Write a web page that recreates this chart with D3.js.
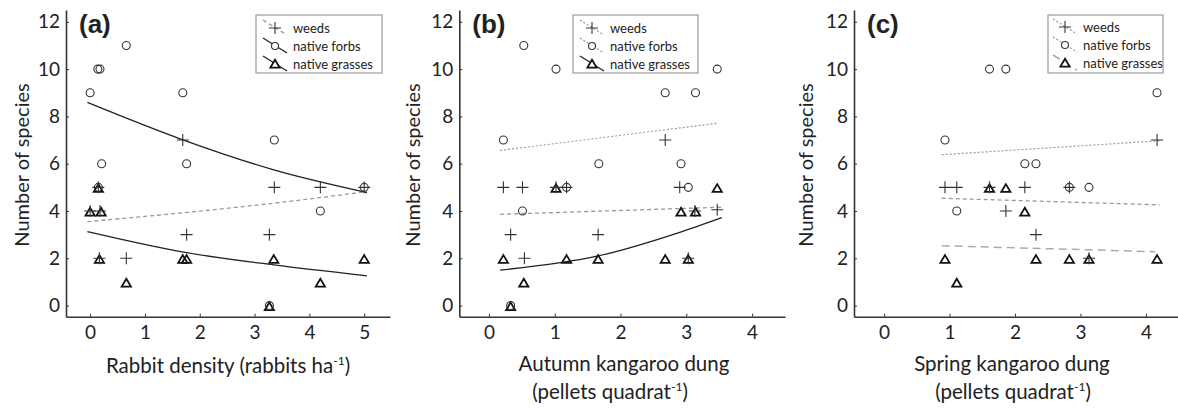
<!DOCTYPE html>
<html lang="en">
<head>
  <meta charset="UTF-8">
  <script src="https://cdn.jsdelivr.net/npm/d3@7"></script>
  <title>Number of species</title>
  <style>
    body { margin: 0; background: #fff; }
    text { font-family: Lato, "Open Sans", sans-serif; fill: #222; }
  </style>
</head>
<body>
  <svg></svg>
</body>
<script>
const width = 1178;
const height = 410;

// ---- data: [x, number of species] ----
const rabbitWeeds = [[0, 4], [0.18, 4], [0.15, 5], [0.17, 2], [0.66, 2], [1.69, 7], [1.76, 3], [3.27, 3], [3.36, 5], [4.2, 5], [5.0, 5]];
const rabbitForbs = [[0, 9], [0.14, 10], [0.18, 10], [0.66, 11], [0.21, 6], [0.15, 5], [1.69, 9], [1.76, 6], [3.36, 7], [3.27, 0], [4.2, 4], [5.0, 5]];
const rabbitGrasses = [[0, 4], [0.2, 4], [0.15, 5], [0.17, 2], [0.66, 1], [1.69, 2], [1.76, 2], [3.35, 2], [3.27, 0], [4.2, 1], [5.0, 2]];

const autumnWeeds = [[0.22, 5], [0.51, 5], [1.02, 5], [1.18, 5], [2.9, 5], [0.33, 3], [0.54, 2], [1.66, 3], [2.68, 7], [3.13, 4], [3.47, 4.05], [3.03, 2]];
const autumnForbs = [[0.22, 7], [0.53, 11], [1.02, 10], [1.67, 6], [2.68, 9], [3.14, 9], [3.47, 10], [2.92, 6], [1.18, 5], [3.03, 5], [0.51, 4], [0.33, 0]];
const autumnGrasses = [[1.02, 5], [3.47, 5], [2.92, 4], [3.14, 4], [0.22, 2], [1.18, 2], [1.66, 2], [2.68, 2], [3.03, 2], [0.53, 1], [0.33, 0]];

const springWeeds = [[0.93, 5], [1.11, 5], [1.61, 5], [2.15, 5], [2.83, 5], [4.17, 7], [1.86, 4], [2.32, 3], [3.13, 2]];
const springForbs = [[0.93, 7], [1.61, 10], [1.86, 10], [2.15, 6], [2.32, 6], [2.83, 5], [3.13, 5], [4.17, 9], [1.11, 4]];
const springGrasses = [[1.61, 5], [1.86, 5], [2.15, 4], [0.93, 2], [2.32, 2], [2.83, 2], [3.13, 2], [4.17, 2], [1.11, 1]];

// fitted lines, points
const rabbitFitWeeds = [[-0.05, 3.55], [3.35, 4.33], [5.05, 4.82]];
const rabbitFitForbs = [[-0.05, 8.59], [1.69, 7.01], [3.35, 5.74], [5.05, 4.78]];
const rabbitFitGrasses = [[-0.05, 3.13], [1.76, 2.24], [3.35, 1.72], [5.05, 1.26]];
const autumnFitWeeds = [[0.17, 3.86], [3.54, 4.16]];
const autumnFitForbs = [[0.17, 6.56], [3.49, 7.72]];
const autumnFitGrasses = [[0.17, 1.5], [1.66, 2.1], [2.9, 3.1], [3.54, 3.72]];
const springFitWeeds = [[0.88, 4.54], [4.21, 4.26]];
const springFitForbs = [[0.88, 6.38], [4.21, 6.97]];
const springFitGrasses = [[0.88, 2.53], [4.14, 2.28]];

const yTicks = [0, 2, 4, 6, 8, 10, 12];
const rabbitTicks = [0, 1, 2, 3, 4, 5];
const dungTicks = [0, 1, 2, 3, 4];
const legendLabels = ['weeds', 'native forbs', 'native grasses'];

// line styles
const styles = {
  solid: { stroke: '#222', dash: null, width: 1.3 },
  dotted: { stroke: '#999', dash: '2,2', width: 1.2 },
  dashed: { stroke: '#999', dash: '4,3', width: 1.3 },
  longdash: { stroke: '#aaa', dash: '8,5', width: 1.5 }
};

const panels = [
  {
    tag: '(a)', x0: 66, x1: 390, domain: [-0.44, 5.47], ticks: rabbitTicks,
    weeds: rabbitWeeds, forbs: rabbitForbs, grasses: rabbitGrasses,
    fits: [[rabbitFitWeeds, 'dashed'], [rabbitFitForbs, 'solid'], [rabbitFitGrasses, 'solid']],
    legend: { x: 256, w: 126, sym: 275, text: 293, rows: [28, 46, 64], styles: ['dashed', 'solid', 'solid'] },
    titleX: 29, titleLines: [{ t: 'Rabbit density (rabbits ha', sup: '-1', tail: ')', cx: 228, y: 373 }]
  },
  {
    tag: '(b)', x0: 459.3, x1: 785, domain: [-0.45, 4.5], ticks: dungTicks,
    weeds: autumnWeeds, forbs: autumnForbs, grasses: autumnGrasses,
    fits: [[autumnFitWeeds, 'dashed'], [autumnFitForbs, 'dotted'], [autumnFitGrasses, 'solid']],
    legend: { x: 573, w: 125, sym: 592, text: 610, rows: [28, 46, 64], styles: ['dotted', 'dotted', 'solid'] },
    titleX: 420, titleLines: [
      { t: 'Autumn kangaroo dung', cx: 624, y: 371 },
      { t: '(pellets quadrat', sup: '-1', tail: ')', cx: 610, y: 399 }
    ]
  },
  {
    tag: '(c)', x0: 854, x1: 1178, domain: [-0.46, 4.49], ticks: dungTicks,
    weeds: springWeeds, forbs: springForbs, grasses: springGrasses,
    fits: [[springFitWeeds, 'dashed'], [springFitForbs, 'dotted'], [springFitGrasses, 'longdash']],
    legend: { x: 1048, w: 115, sym: 1065, text: 1083, rows: [27, 45, 63], styles: ['dotted', 'dotted', 'longdash'] },
    titleX: 813, titleLines: [
      { t: 'Spring kangaroo dung', cx: 1012, y: 371 },
      { t: '(pellets quadrat', sup: '-1', tail: ')', cx: 1013, y: 399 }
    ]
  }
];

const svg = d3.select('svg').attr('width', width).attr('height', height);
const yScale = d3.scaleLinear().domain([-0.47, 12.5]).range([316.7, 10]);

const plusPath = 'M-6,0H6M0,-6V6';
const triPath = 'M0,-4.2L4.6,3.6L-4.6,3.6Z';

const drawMarker = (g, kind, x, y) => {
  if (kind === 'weeds') {
    g.append('path').attr('d', plusPath).attr('transform', `translate(${x},${y})`)
      .attr('fill', 'none').attr('stroke', '#333').attr('stroke-width', 1.1);
  } else if (kind === 'forbs') {
    g.append('circle').attr('cx', x).attr('cy', y).attr('r', 4)
      .attr('fill', 'none').attr('stroke', '#333').attr('stroke-width', 1.1);
  } else {
    g.append('path').attr('d', triPath).attr('transform', `translate(${x},${y + 1})`)
      .attr('fill', 'none').attr('stroke', '#111').attr('stroke-width', 1.8);
  }
};

const applyStyle = (sel, name) => {
  const s = styles[name];
  sel.attr('fill', 'none').attr('stroke', s.stroke).attr('stroke-width', s.width);
  if (s.dash) sel.attr('stroke-dasharray', s.dash);
  return sel;
};

panels.forEach(p => {
  const xScale = d3.scaleLinear().domain(p.domain).range([p.x0, p.x1]);
  const layer = svg.append('g');

  // axes
  const xAxis = d3.axisBottom(xScale).tickValues(p.ticks).tickFormat(d3.format('d'))
    .tickSizeInner(-3).tickSizeOuter(0).tickPadding(9);
  const yAxis = d3.axisLeft(yScale).tickValues(yTicks).tickFormat(d3.format('d'))
    .tickSizeInner(-3).tickSizeOuter(0).tickPadding(6);
  const xg = layer.append('g').attr('transform', `translate(0,${yScale.range()[0]})`).call(xAxis);
  const yg = layer.append('g').attr('transform', `translate(${p.x0},0)`).call(yAxis);
  [xg, yg].forEach(g => {
    g.select('.domain').attr('stroke', '#333').attr('stroke-width', 1.6);
    g.selectAll('.tick line').attr('stroke', '#333');
    g.selectAll('.tick text').style('font-size', '19px').attr('fill', '#222');
  });

  // fitted curves
  const line = d3.line().x(d => xScale(d[0])).y(d => yScale(d[1])).curve(d3.curveMonotoneX);
  p.fits.forEach(([pts, st]) => {
    applyStyle(layer.append('path').attr('d', line(pts)), st);
  });

  // points
  const marks = layer.append('g');
  p.grasses.forEach(d => drawMarker(marks, 'grasses', xScale(d[0]), yScale(d[1])));
  p.forbs.forEach(d => drawMarker(marks, 'forbs', xScale(d[0]), yScale(d[1])));
  p.weeds.forEach(d => drawMarker(marks, 'weeds', xScale(d[0]), yScale(d[1])));

  // panel tag
  layer.append('text').attr('x', p.x0 + 13).attr('y', 33)
    .style('font-family', 'Liberation Sans, Arial, sans-serif').style('font-weight', 'bold')
    .style('font-size', '26px').attr('fill', '#111').text(p.tag);

  // legend
  const lg = layer.append('g');
  lg.append('rect').attr('x', p.legend.x).attr('y', 15).attr('width', p.legend.w).attr('height', 58)
    .attr('fill', '#fff').attr('stroke', '#888').attr('stroke-width', 1);
  ['weeds', 'forbs', 'grasses'].forEach((k, i) => {
    const cy = p.legend.rows[i];
    applyStyle(lg.append('line').attr('x1', p.legend.sym - 12).attr('y1', cy - 8)
      .attr('x2', p.legend.sym + 12).attr('y2', cy + 7), p.legend.styles[i]);
    if (k === 'weeds') {
      lg.append('path').attr('d', plusPath).attr('transform', `translate(${p.legend.sym},${cy})`)
        .attr('fill', 'none').attr('stroke', '#333').attr('stroke-width', 1.1);
    } else if (k === 'forbs') {
      lg.append('circle').attr('cx', p.legend.sym).attr('cy', cy).attr('r', 3.5)
        .attr('fill', '#fff').attr('stroke', '#333').attr('stroke-width', 1.1);
    } else {
      lg.append('path').attr('d', triPath).attr('transform', `translate(${p.legend.sym},${cy})`)
        .attr('fill', '#fff').attr('stroke', '#111').attr('stroke-width', 1.8);
    }
    lg.append('text').attr('x', p.legend.text).attr('y', cy + 5)
      .style('font-size', '13px').text(legendLabels[i]);
  });

  // axis titles
  layer.append('text').attr('transform', `translate(${p.titleX},165) rotate(-90)`)
    .attr('text-anchor', 'middle').style('font-size', '20px').text('Number of species');

  p.titleLines.forEach(tl => {
    const t = layer.append('text').attr('x', tl.cx).attr('y', tl.y)
      .attr('text-anchor', 'middle').style('font-size', '20.5px');
    t.append('tspan').text(tl.t);
    if (tl.sup) {
      t.append('tspan').attr('dy', -8).style('font-size', '12px').text(tl.sup);
      t.append('tspan').attr('dy', 8).text(tl.tail);
    }
  });
});
</script>
</html>
